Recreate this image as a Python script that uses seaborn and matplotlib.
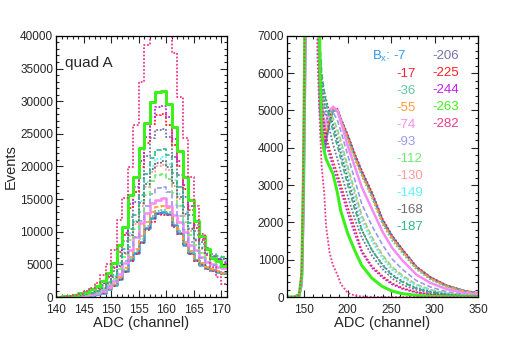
import numpy as np
import pandas as pd
import matplotlib
matplotlib.use("Agg")
import matplotlib.pyplot as plt
from matplotlib.ticker import MultipleLocator
import seaborn as sns

# B_x settings of the 16 runs (legend order)
bx_values = [-7, -17, -36, -55, -74, -93, -112, -130, -149, -168, -187, -206, -225, -244, -263, -282]

# ---- left panel: counts per ADC channel, channels 140..170 ----
left_adc = list(range(140, 171))

left_m7 = [5, 15, 30, 60, 110, 180, 280, 420, 650, 1200, 1800, 2700, 4000, 5600, 6700, 8480, 10570, 12060, 12830, 13000, 12700, 11000, 9800, 8000, 6700, 5700, 4900, 4400, 4150, 3900, 3650]
left_m17 = [5, 13, 25, 64, 100, 180, 280, 410, 640, 1170, 1750, 2640, 3910, 5470, 6540, 8280, 10330, 11500, 12700, 12500, 12600, 10740, 9580, 8100, 6540, 5560, 5000, 4290, 4050, 3810, 3570]
left_m36 = [8, 15, 30, 70, 120, 200, 310, 450, 700, 1260, 1880, 2850, 4170, 5860, 7000, 8830, 10930, 12460, 13240, 13400, 13040, 11310, 10040, 8180, 6840, 5780, 4940, 4380, 4100, 3860, 3600]
left_m55 = [10, 20, 40, 90, 140, 230, 360, 520, 800, 1350, 2000, 3020, 4400, 6200, 7400, 9300, 11450, 13030, 13830, 14000, 13600, 11800, 10450, 8500, 7100, 6000, 5150, 4570, 4250, 4000, 3750]
left_m74 = [10, 25, 50, 100, 170, 280, 430, 650, 1000, 1500, 2400, 3600, 5160, 7200, 9250, 11300, 12830, 14360, 14870, 15100, 14000, 12600, 11500, 10000, 7970, 7200, 6200, 5400, 5000, 4600, 4400]
left_m93 = [17, 34, 67, 134, 218, 336, 504, 722, 1092, 1680, 2520, 3860, 5460, 7730, 9240, 11590, 13940, 15790, 16630, 16800, 16130, 14110, 12430, 10250, 8400, 7060, 6050, 5380, 4870, 4700, 4540]
left_m112 = [19, 38, 76, 151, 246, 378, 567, 813, 1230, 1890, 2840, 4350, 6140, 8690, 10400, 13040, 15690, 17770, 18710, 18900, 18140, 15880, 13990, 11530, 9450, 7940, 6800, 6050, 5480, 5290, 5100]
left_m130 = [20, 41, 81, 162, 264, 406, 609, 873, 1320, 2030, 3050, 4670, 6600, 9340, 11170, 14010, 16850, 19080, 20100, 20300, 19490, 17050, 15020, 12380, 10150, 8530, 7310, 6500, 5890, 5680, 5480]
left_m149 = [21, 43, 85, 170, 277, 426, 639, 916, 1380, 2130, 3200, 4900, 6920, 9800, 11720, 14700, 17680, 20020, 21090, 21500, 20450, 17890, 15760, 12990, 10650, 8950, 7670, 6820, 6180, 5960, 5750]
left_m168 = [21, 42, 83, 166, 270, 416, 624, 894, 1350, 2080, 3120, 4780, 6760, 9570, 11440, 14350, 17260, 19550, 20590, 20800, 19970, 17470, 15390, 12690, 10400, 8740, 7490, 6660, 6030, 5820, 5820]
left_m187 = [23, 45, 91, 182, 295, 454, 681, 976, 1480, 2270, 3410, 5220, 7380, 10440, 12490, 15660, 18840, 21340, 22470, 22700, 21790, 19070, 16800, 13850, 11350, 9530, 8170, 7260, 6580, 6360, 6130]
left_m206 = [39, 65, 129, 245, 387, 580, 877, 1250, 1860, 2770, 4040, 6220, 8590, 12320, 14630, 18210, 21580, 24340, 25620, 25800, 24470, 21490, 18670, 15380, 12490, 10150, 8440, 7150, 6190, 5860, 5420]
left_m225 = [50, 78, 154, 288, 448, 666, 1010, 1440, 2110, 3110, 4480, 6900, 9440, 13610, 16110, 19990, 23520, 26460, 27850, 28000, 26400, 23240, 20020, 16490, 13330, 10640, 8680, 7170, 6020, 5600, 5040]
left_m244 = [53, 82, 161, 301, 467, 695, 1050, 1500, 2200, 3240, 4670, 7200, 9840, 14190, 16800, 20850, 24530, 27590, 29040, 29200, 27540, 24240, 20880, 17200, 13900, 11100, 9050, 7480, 6280, 5840, 5260]
left_m263 = [50, 100, 200, 350, 550, 800, 1200, 1700, 2500, 3630, 5160, 7970, 10780, 15640, 18440, 22800, 26630, 29940, 31470, 31600, 29600, 26100, 22350, 18400, 14800, 11600, 9300, 7400, 6000, 5500, 4750]
left_m282 = [20, 50, 120, 250, 500, 900, 1400, 2200, 3400, 5000, 7200, 11800, 15180, 19980, 26400, 33000, 38600, 44000, 47000, 47000, 44000, 37400, 30700, 24400, 18400, 14000, 9700, 6500, 4600, 3000, 2000]

# ---- right panel: full spectrum, counts per channel read at these ADC values ----
right_adc = [130, 138, 144, 147, 149, 151, 153, 160, 165, 168, 170, 173, 175, 179, 183, 188, 192, 200, 208, 216, 228, 240, 251, 263, 279, 295, 314, 334, 350]

right_m7 = [0, 0, 20, 350, 2300, 6200, 11500, 24000, 9000, 5000, 4600, 3900, 4200, 4700, 5000, 5000, 4750, 4300, 3800, 3350, 2750, 2050, 1620, 1250, 800, 520, 300, 160, 100]
right_m17 = [0, 0, 30, 450, 2700, 6800, 12000, 25000, 9500, 5200, 4800, 4000, 4300, 4700, 5000, 5050, 4800, 4350, 3850, 3400, 2800, 2100, 1650, 1280, 820, 540, 310, 170, 110]
right_m36 = [0, 0, 20, 400, 2500, 6600, 12000, 25000, 10000, 5600, 5200, 4300, 4500, 4800, 5000, 5000, 4750, 4200, 3700, 3250, 2650, 1950, 1520, 1170, 740, 470, 270, 150, 90]
right_m55 = [0, 0, 25, 420, 2600, 6700, 12200, 25500, 9800, 5400, 5000, 4200, 4400, 4800, 5050, 5000, 4750, 4250, 3750, 3300, 2700, 2000, 1580, 1220, 780, 500, 290, 160, 100]
right_m74 = [0, 0, 20, 380, 2400, 6400, 11800, 26000, 10500, 5800, 5300, 4500, 4700, 5000, 5100, 5000, 4700, 4050, 3500, 2950, 2350, 1750, 1320, 980, 600, 380, 210, 110, 70]
right_m93 = [0, 0, 25, 420, 2600, 6700, 12300, 27000, 11000, 6000, 5500, 4900, 4900, 5000, 4950, 4750, 4450, 3800, 3150, 2500, 1900, 1400, 1020, 740, 440, 270, 140, 70, 40]
right_m112 = [0, 0, 30, 450, 2700, 6900, 12600, 28000, 11500, 6200, 5600, 5100, 5000, 4950, 4800, 4500, 4200, 3500, 2850, 2200, 1600, 1130, 810, 580, 340, 200, 100, 50, 30]
right_m130 = [0, 0, 30, 460, 2750, 7000, 12800, 28500, 12000, 6300, 5600, 5200, 5050, 4900, 4700, 4400, 4100, 3400, 2750, 2150, 1550, 1080, 770, 550, 320, 190, 100, 50, 30]
right_m149 = [0, 0, 30, 470, 2800, 7100, 13000, 29000, 12000, 6400, 5700, 5300, 5100, 4900, 4650, 4300, 4000, 3300, 2650, 2050, 1480, 1030, 730, 520, 300, 180, 90, 45, 25]
right_m168 = [0, 0, 35, 480, 2850, 7200, 13200, 29500, 12500, 6500, 5800, 5500, 5300, 4950, 4600, 4200, 3850, 3150, 2500, 1800, 1250, 870, 600, 420, 240, 140, 70, 35, 20]
right_m187 = [0, 0, 35, 500, 2900, 7300, 13500, 30000, 13000, 6800, 6000, 5500, 5200, 4800, 4450, 4050, 3700, 3000, 2350, 1800, 1250, 850, 580, 400, 230, 130, 65, 30, 20]
right_m206 = [0, 0, 40, 520, 3000, 7500, 14000, 32000, 13500, 6600, 5700, 5200, 4900, 4500, 4100, 3700, 3350, 2700, 2100, 1600, 1100, 750, 500, 330, 190, 100, 50, 25, 15]
right_m225 = [0, 0, 40, 540, 3100, 7700, 14500, 34000, 14000, 6200, 5200, 4600, 4300, 3950, 3650, 3300, 3000, 2400, 1850, 1250, 820, 560, 370, 240, 130, 70, 35, 15, 10]
right_m244 = [0, 0, 45, 560, 3200, 7900, 15000, 35000, 14000, 6000, 4900, 4400, 4100, 3800, 3500, 3150, 2850, 2250, 1700, 1200, 780, 520, 340, 220, 120, 60, 30, 15, 10]
right_m263 = [0, 0, 50, 600, 3400, 8300, 16000, 38000, 15000, 6000, 4300, 3900, 3700, 3500, 3300, 2800, 2300, 1700, 1250, 850, 500, 280, 160, 90, 45, 20, 10, 5, 0]
right_m282 = [0, 0, 60, 700, 3800, 9000, 18000, 50000, 6500, 4500, 3500, 2750, 1900, 1200, 850, 600, 350, 110, 40, 15, 5, 0, 0, 0, 0, 0, 0, 0, 0]

left_series = [left_m7, left_m17, left_m36, left_m55, left_m74, left_m93, left_m112, left_m130,
               left_m149, left_m168, left_m187, left_m206, left_m225, left_m244, left_m263, left_m282]
right_series = [right_m7, right_m17, right_m36, right_m55, right_m74, right_m93, right_m112, right_m130,
                right_m149, right_m168, right_m187, right_m206, right_m225, right_m244, right_m263, right_m282]

# ROOT-like colours and line styles
colors = ["#2e9ae6", "#f0203a", "#5fc99a", "#ff9933", "#f78bf5", "#9999ee", "#70e870", "#ff9a9a",
          "#5ff2ff", "#6b6b6b", "#2fb88a", "#7474a8", "#ff1f1f", "#c21ff0", "#3cf01c", "#f0388c"]
dot = (0, (1, 1))
dash = (0, (3, 1.5))
styles = ["-", dot, dot, dash, "-", dash, dash, dot, dot, dot, dash, dot, dot, dot, "-", dot]
widths = [1.8, 1.3, 1.3, 1.2, 1.8, 1.2, 1.2, 1.3, 1.3, 1.3, 1.2, 1.3, 1.3, 1.3, 2.2, 1.3]

sns.set_theme(style="ticks")
plt.rcParams["font.family"] = ["Liberation Sans", "DejaVu Sans"]
plt.rcParams["mathtext.fontset"] = "custom"
plt.rcParams["mathtext.rm"] = "Liberation Sans"
plt.rcParams["mathtext.it"] = "Liberation Sans"

fig = plt.figure(figsize=(5.07, 3.45), dpi=100)
ax_l = fig.add_axes([0.1105, 0.139, 0.337, 0.757])
ax_r = fig.add_axes([0.566, 0.139, 0.377, 0.757])

# left panel: step histograms
edges = list(range(left_adc[0], left_adc[-1] + 2))
for vals, c, ls, lw in zip(left_series, colors, styles, widths):
    df = pd.DataFrame({"adc": [a + 0.5 for a in left_adc], "counts": vals})
    sns.histplot(data=df, x="adc", weights="counts", bins=edges, element="step", fill=False,
                 color=c, linestyle=ls, linewidth=lw, ax=ax_l)

# right panel: full spectra
for vals, c, ls, lw in zip(right_series, colors, styles, widths):
    sns.lineplot(x=right_adc, y=vals, color=c, linestyle=ls, linewidth=lw,
                 errorbar=None, legend=False, ax=ax_r)

ax_l.set_xlim(140, 171)
ax_l.set_ylim(0, 40000)
ax_l.xaxis.set_major_locator(MultipleLocator(5))
ax_l.xaxis.set_minor_locator(MultipleLocator(1))
ax_l.yaxis.set_major_locator(MultipleLocator(5000))
ax_l.yaxis.set_minor_locator(MultipleLocator(1000))
ax_l.set_xlabel("ADC (channel)", fontsize=10.5, labelpad=0)
ax_l.set_ylabel("Events", fontsize=10.5, labelpad=2)
ax_l.text(0.053, 0.895, "quad A", transform=ax_l.transAxes, fontsize=11, va="center", ha="left")

ax_r.set_xlim(130, 350)
ax_r.set_ylim(0, 7000)
ax_r.xaxis.set_major_locator(MultipleLocator(50))
ax_r.xaxis.set_minor_locator(MultipleLocator(10))
ax_r.yaxis.set_major_locator(MultipleLocator(1000))
ax_r.yaxis.set_minor_locator(MultipleLocator(200))
ax_r.set_xlabel("ADC (channel)", fontsize=10.5, labelpad=0)
ax_r.set_ylabel("")

for ax in (ax_l, ax_r):
    ax.tick_params(which="both", direction="in", top=True, right=True, labelsize=8.5, width=0.8)
    ax.tick_params(axis="x", pad=5)
    ax.tick_params(axis="y", pad=2)
    ax.tick_params(which="major", length=5)
    ax.tick_params(which="minor", length=2.5)
    for sp in ax.spines.values():
        sp.set_linewidth(0.9)
        sp.set_color("black")

# legend as coloured labels in two columns
ax_r.text(0.445, 0.921, "$B_x$: -7", transform=ax_r.transAxes, color=colors[0], fontsize=9.5, va="center", ha="left")
for i in range(1, 11):
    ax_r.text(0.571, 0.921 - i * 0.0653, str(bx_values[i]), transform=ax_r.transAxes,
              color=colors[i], fontsize=9.5, va="center", ha="left")
for j, i in enumerate(range(11, 16)):
    ax_r.text(0.759, 0.923 - j * 0.065, str(bx_values[i]), transform=ax_r.transAxes,
              color=colors[i], fontsize=9.5, va="center", ha="left")

fig.savefig("out.png", dpi=100)
